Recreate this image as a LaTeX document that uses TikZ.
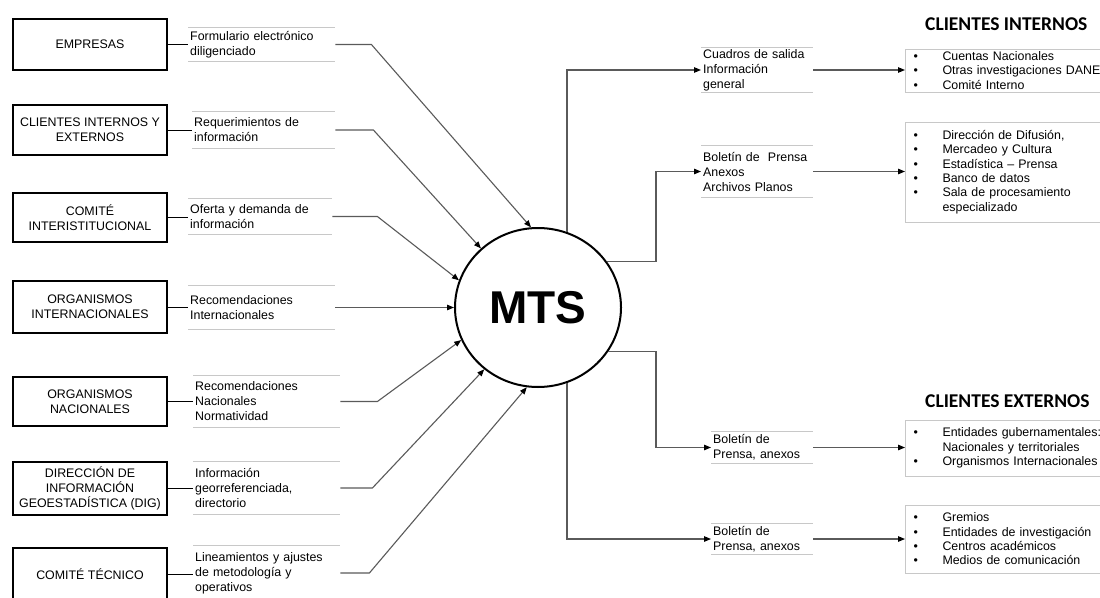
\documentclass[tikz,border=0pt]{standalone}
\usepackage{fontspec}
\setmainfont{Liberation Sans}
\newfontfamily\headfont{Carlito}
\usetikzlibrary{arrows.meta,shapes.geometric}
\definecolor{rulegrey}{HTML}{C8C8C8}
\definecolor{wiregrey}{HTML}{5A5A5A}
\newcommand\itembullet{\makebox[29pt][l]{\textbullet}}

\begin{document}
\begin{tikzpicture}[x=1pt,y=-1pt,
  font=\fontsize{12.4}{15}\selectfont,
  source/.style={draw=black, line width=2.4pt, minimum width=154pt, align=center, inner sep=2pt},
  tag/.style={inner xsep=2pt, inner ysep=0pt, align=left, anchor=west},
  rule/.style={draw=rulegrey, line width=1.2pt},
  list/.style={draw=rulegrey, line width=1pt, anchor=west, align=left, inner xsep=8pt,
               inner ysep=0pt, text width=220pt, font=\fontsize{12.4}{14.3}\selectfont},
  link/.style={draw=black, line width=1pt},
  wire/.style={draw=wiregrey, line width=1.1pt, -{Triangle[length=7pt,width=5.5pt,color=black]}},
  head/.style={font=\headfont\bfseries\fontsize{19.5}{22}\selectfont, anchor=west, inner sep=0pt}
]
\useasboundingbox (0,0) rectangle (1100,597);
\fill[white] (0,0) rectangle (1100,597);
\clip (0,0) rectangle (1100,597);

% central process
\node[draw, ellipse, line width=2pt, minimum width=166pt, minimum height=159pt, inner sep=0pt,
      font=\bfseries\fontsize{46}{46}\selectfont] (mts) at (538,307.5) {MTS};

% sources
\node[source, minimum height=51pt] (s1) at (90,44.5) {EMPRESAS};
\node[source, minimum height=50pt] (s2) at (90,130) {CLIENTES INTERNOS Y\\EXTERNOS};
\node[source, minimum height=49pt] (s3) at (90,217.5) {COMITÉ\\INTERISTITUCIONAL};
\node[source, minimum height=52pt] (s4) at (90,307) {ORGANISMOS\\INTERNACIONALES};
\node[source, minimum height=49pt] (s5) at (90,401.5) {ORGANISMOS\\NACIONALES};
\node[source, minimum height=53pt] (s6) at (90,488.5) {DIRECCIÓN DE\\INFORMACIÓN\\GEOESTADÍSTICA (DIG)};
\node[source, minimum height=53pt] (s7) at (90,574.5) {COMITÉ TÉCNICO};

% inputs
\node[tag, text width=143pt, minimum height=33pt] (l1) at (188,44.5) {Formulario electrónico\\diligenciado};
\node[tag, text width=139pt, minimum height=36pt] (l2) at (192,130) {Requerimientos de\\información};
\node[tag, text width=140pt, minimum height=35pt] (l3) at (188,216.5) {Oferta y demanda de\\información};
\node[tag, text width=143pt, minimum height=43pt] (l4) at (188,307.5) {Recomendaciones\\Internacionales};
\node[tag, text width=143pt, minimum height=51pt] (l5) at (193,401.5) {Recomendaciones\\Nacionales\\Normatividad};
\node[tag, text width=143pt, minimum height=52pt] (l6) at (193,488) {Información\\georreferenciada,\\directorio};
\node[tag, text width=143pt, minimum height=54pt] (l7) at (193,573) {Lineamientos y ajustes\\de metodología y\\operativos};

% outputs
\node[tag, text width=108pt, minimum height=44pt] (oA) at (701,70) {Cuadros de salida\\Información\\general};
\node[tag, text width=108pt, minimum height=51pt] (oB) at (701,171.5) {Boletín de~ Prensa\\Anexos\\Archivos Planos};
\node[tag, text width=98pt, minimum height=31pt] (oC) at (711,447.5) {Boletín de\\Prensa, anexos};
\node[tag, text width=98pt, minimum height=30pt] (oD) at (711,539) {Boletín de\\Prensa, anexos};

\foreach \n in {l1,l2,l3,l4,l5,l6,l7,oA,oB,oC,oD}
  \draw[rule] (\n.north west) -- (\n.north east) (\n.south west) -- (\n.south east);

% users
\node[head] (ti) at (925,24) {CLIENTES INTERNOS};
\node[head] (te) at (925,401) {CLIENTES EXTERNOS};

\node[list, minimum height=43pt] (iA) at (905,70.5)
  {\itembullet Cuentas Nacionales\\\itembullet Otras investigaciones DANE\\\itembullet Comité Interno};
\node[list, minimum height=100pt] (iB) at (905,172)
  {\itembullet Dirección de Difusión,\\\itembullet Mercadeo y Cultura\\\itembullet Estadística – Prensa\\
   \itembullet Banco de datos\\\itembullet Sala de procesamiento\\\hspace*{29pt}especializado};
\node[list, minimum height=56pt] (eA) at (905,448)
  {\itembullet Entidades gubernamentales:\\\hspace*{29pt}Nacionales y territoriales\\\itembullet Organismos Internacionales};
\node[list, minimum height=68pt] (eB) at (905,539)
  {\itembullet Gremios\\\itembullet Entidades de investigación\\\itembullet Centros académicos\\\itembullet Medios de comunicación};

% sources to inputs
\foreach \i in {1,...,7}
  \draw[link] (s\i.east) -- (s\i.east -| l\i.west);

% inputs to the process
\draw[wire] (l1.east) -- ++(36,0) -- (mts.95.6);
\draw[wire] (l2.east) -- ++(38,0) -- (mts.134.5);
\draw[wire] (l3.east) -- ++(45,0) -- (mts.161.5);
\draw[wire] (l4.east) -- (l4.east -| mts.west);
\draw[wire] (l5.east) -- ++(37,0) -- (mts.203.9);
\draw[wire] (l6.east) -- ++(32,0) -- (mts.229.9);
\draw[wire] (l7.east) -- ++(29,0) -- (mts.262);

% process to outputs
\draw[wire] (mts.69) |- (oA.west);
\draw[wire] (mts.34) -| ([xshift=-45pt]oB.west) -- (oB.west);
\draw[wire] (mts.-32.5) -| ([xshift=-55pt]oC.west) -- (oC.west);
\draw[wire] (mts.-69) |- (oD.west);

% outputs to users
\draw[wire] (oA.east) -- (oA.east -| iA.west);
\draw[wire] (oB.east) -- (oB.east -| iB.west);
\draw[wire] (oC.east) -- (oC.east -| eA.west);
\draw[wire] (oD.east) -- (oD.east -| eB.west);
\end{tikzpicture}
\end{document}
